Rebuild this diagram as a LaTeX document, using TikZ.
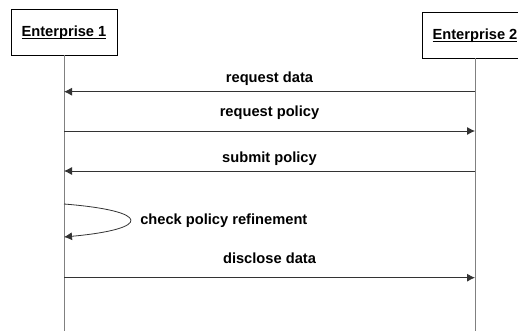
\documentclass[tikz,border=0pt]{standalone}
\usepackage{fontspec}
\setmainfont{Liberation Sans}
\usetikzlibrary{arrows.meta}

\begin{document}
\begin{tikzpicture}[x=0.75pt, y=-0.75pt]
    \tikzstyle{actor} = [draw, line width=0.6pt, minimum width=79.5pt, minimum height=34.5pt, inner sep=0pt, text height=9pt, text depth=2pt, font=\bfseries\fontsize{11}{13}\selectfont]
    \tikzstyle{msg} = [black!80, line width=0.6pt, -{Latex[length=6pt, width=6pt]}]
    \tikzstyle{lbl} = [inner sep=0pt, font=\bfseries\fontsize{11}{13}\selectfont]
    \clip (0,0) rectangle (518,331);
    % the two parties
    \node[actor] (ent1) at (64,32) {\underline{\smash{Enterprise 1}}};
    \node[actor] (ent2) at (475,35) {\underline{\smash{Enterprise 2}}};
    \coordinate (ent1end) at (64,331);
    \coordinate (ent2end) at (475,331);
    \draw[gray, line width=0.75pt] (ent1.south) -- (ent1end);
    \draw[gray, line width=0.75pt] (ent2.south) -- (ent2end);
    % message points on the lifelines
    \foreach \i/\y in {1/91.7, 2/131, 3/171, 4/277.7} {
        \coordinate (l\i) at (64,\y);
        \coordinate (r\i) at (475,\y);
    }
    \coordinate (self1) at (64,204);
    \coordinate (self2) at (64,237);
    % messages
    \draw[msg] (r1) -- (l1);
    \draw[msg] (l2) -- (r2);
    \draw[msg] (r3) -- (l3);
    \draw[msg] (self1) .. controls (152,211) and (152,229) .. (self2);
    \draw[msg] (l4) -- (r4);
    % labels
    \node[lbl, anchor=base] (reqdata) at (269.5,83) {request data};
    \node[lbl, anchor=base] (reqpolicy) at (269.5,117) {request policy};
    \node[lbl, anchor=base] (subpolicy) at (269.5,163) {submit policy};
    \node[lbl, anchor=base west] (checkref) at (140,224.5) {check policy refinement};
    \node[lbl, anchor=base] (disdata) at (269.5,264) {disclose data};
\end{tikzpicture}
\end{document}
